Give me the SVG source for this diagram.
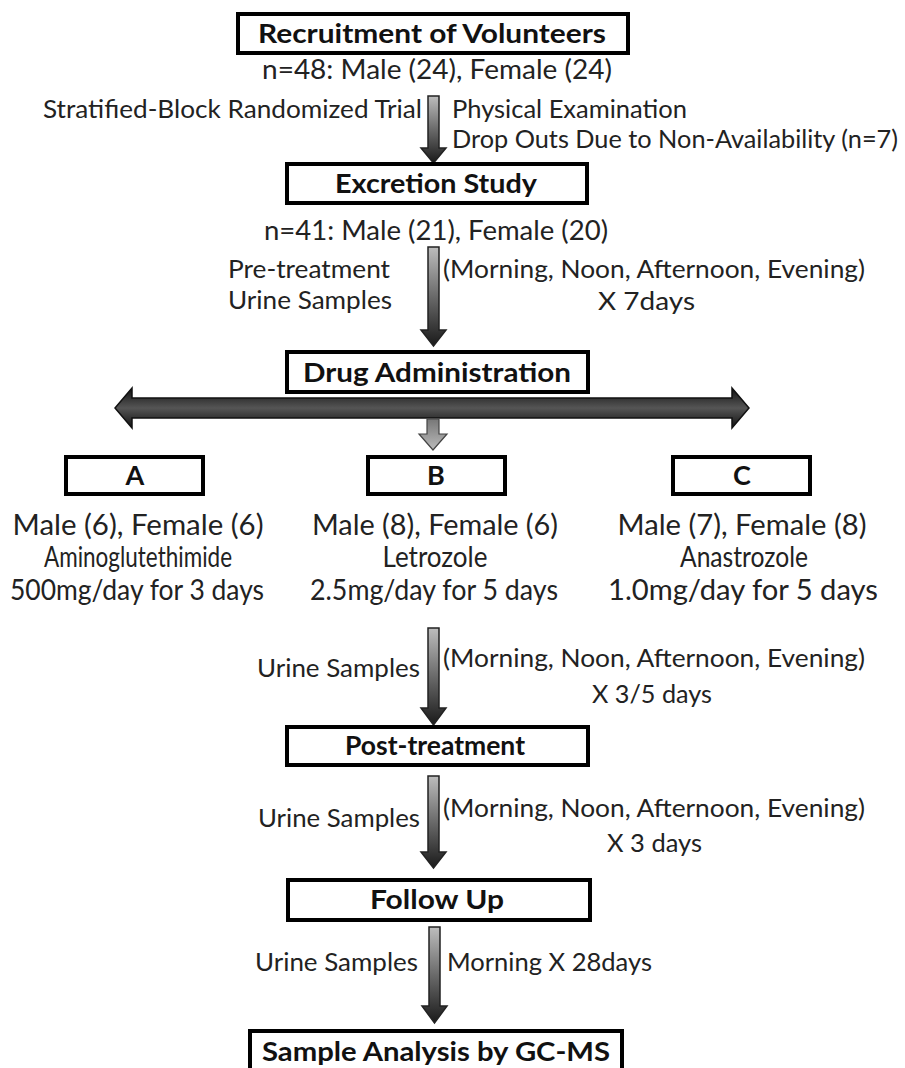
<svg xmlns="http://www.w3.org/2000/svg" width="905" height="1068" viewBox="0 0 905 1068">
<defs>
<linearGradient id="vg" x1="0" y1="0" x2="0" y2="1">
<stop offset="0" stop-color="#bdbdbd"/><stop offset="0.5" stop-color="#6a6a6a"/><stop offset="1" stop-color="#1a1a1a"/>
</linearGradient>
<linearGradient id="hg" x1="0" y1="0" x2="0" y2="1">
<stop offset="0" stop-color="#111"/><stop offset="0.5" stop-color="#555"/><stop offset="1" stop-color="#111"/>
</linearGradient>
<linearGradient id="gg" x1="0" y1="0" x2="0" y2="1">
<stop offset="0" stop-color="#777"/><stop offset="1" stop-color="#bbb"/>
</linearGradient>
</defs>
<style>
.box{fill:#fff;stroke:#000;stroke-width:4}
.t{font-family:Lato,"Liberation Sans",sans-serif;font-size:25px;fill:#222}
.tb{font-family:Lato,"Liberation Sans",sans-serif;font-size:27px;font-weight:bold;fill:#111;text-anchor:middle}
.tl{font-family:Lato,"Liberation Sans",sans-serif;font-size:27px;fill:#222;text-anchor:middle}
.tg{font-family:Lato,"Liberation Sans",sans-serif;font-size:28px;fill:#222;text-anchor:middle}
.ar{fill:url(#vg);stroke:#222;stroke-width:1.5}
</style>
<rect width="905" height="1068" fill="#fff"/>
<g id="connectors">
<path class="ar" d="M428,96 H439 V148 H446 L433.5,163 L421,148 H428 Z"/>
<path class="ar" d="M428,247 H439 V330 H446 L433.5,346 L421,330 H428 Z"/>
<path d="M132,398 H732 V388 L749,408 L732,428 V418 H132 V428 L115,408 L132,388 Z" fill="url(#hg)" stroke="#111" stroke-width="1.5"/>
<path d="M427,419 H439 V434 H447 L433,450 L419,434 H427 Z" fill="url(#gg)" stroke="#444" stroke-width="1.2"/>
<path class="ar" d="M428,628 H439 V708 H446 L433.5,725 L421,708 H428 Z"/>
<path class="ar" d="M428,776 H439 V852 H446 L433.5,868 L421,852 H428 Z"/>
<path class="ar" d="M429,927 H440 V1006 H447 L434.5,1023 L422,1006 H429 Z"/>
</g>
<g id="recruitment">
<rect class="box" x="238" y="14" width="390" height="39"/>
<text class="tb" x="432" y="43" textLength="348" lengthAdjust="spacingAndGlyphs">Recruitment of Volunteers</text>
<text class="tl" x="437" y="79" textLength="350" lengthAdjust="spacingAndGlyphs">n=48: Male (24), Female (24)</text>
</g>
<g id="labels1">
<text class="t" x="43" y="118" textLength="379" lengthAdjust="spacingAndGlyphs">Stratified-Block Randomized Trial</text>
<text class="t" x="452" y="118" textLength="235" lengthAdjust="spacingAndGlyphs">Physical Examination</text>
<text class="t" x="452" y="148" textLength="446" lengthAdjust="spacingAndGlyphs">Drop Outs Due to Non-Availability (n=7)</text>
</g>
<g id="excretion">
<rect class="box" x="287" y="164" width="300" height="39"/>
<text class="tb" x="436" y="193" textLength="202" lengthAdjust="spacingAndGlyphs">Excretion Study</text>
<text class="tl" x="436" y="240" textLength="344" lengthAdjust="spacingAndGlyphs">n=41: Male (21), Female (20)</text>
</g>
<g id="labels2">
<text class="t" x="228" y="278" textLength="162" lengthAdjust="spacingAndGlyphs">Pre-treatment</text>
<text class="t" x="228" y="309" textLength="164" lengthAdjust="spacingAndGlyphs">Urine Samples</text>
<text class="t" x="443" y="278" textLength="422" lengthAdjust="spacingAndGlyphs">(Morning, Noon, Afternoon, Evening)</text>
<text class="t" x="598" y="310" textLength="97" lengthAdjust="spacingAndGlyphs">X 7days</text>
</g>
<g id="drug">
<rect class="box" x="287" y="352" width="301" height="40"/>
<text class="tb" x="437" y="382" textLength="268" lengthAdjust="spacingAndGlyphs">Drug Administration</text>
</g>
<g id="groupA">
<rect class="box" x="66" y="457" width="137" height="37"/>
<text class="tb" x="135" y="485">A</text>
<text class="tg" x="138" y="535" textLength="251" lengthAdjust="spacingAndGlyphs">Male (6), Female (6)</text>
<text class="tg" x="138" y="567" textLength="188" lengthAdjust="spacingAndGlyphs">Aminoglutethimide</text>
<text class="tg" x="137" y="600" textLength="254" lengthAdjust="spacingAndGlyphs">500mg/day for 3 days</text>
</g>
<g id="groupB">
<rect class="box" x="368" y="457" width="137" height="37"/>
<text class="tb" x="436" y="485">B</text>
<text class="tg" x="435" y="535" textLength="246" lengthAdjust="spacingAndGlyphs">Male (8), Female (6)</text>
<text class="tg" x="435" y="567" textLength="105" lengthAdjust="spacingAndGlyphs">Letrozole</text>
<text class="tg" x="434" y="600" textLength="248" lengthAdjust="spacingAndGlyphs">2.5mg/day for 5 days</text>
</g>
<g id="groupC">
<rect class="box" x="673" y="457" width="137" height="37"/>
<text class="tb" x="742" y="485">C</text>
<text class="tg" x="742" y="535" textLength="249" lengthAdjust="spacingAndGlyphs">Male (7), Female (8)</text>
<text class="tg" x="744" y="567" textLength="128" lengthAdjust="spacingAndGlyphs">Anastrozole</text>
<text class="tg" x="743" y="600" textLength="270" lengthAdjust="spacingAndGlyphs">1.0mg/day for 5 days</text>
</g>
<g id="labels3">
<text class="t" x="257" y="677" textLength="163" lengthAdjust="spacingAndGlyphs">Urine Samples</text>
<text class="t" x="443" y="667" textLength="422" lengthAdjust="spacingAndGlyphs">(Morning, Noon, Afternoon, Evening)</text>
<text class="t" x="592" y="703" textLength="120" lengthAdjust="spacingAndGlyphs">X 3/5 days</text>
</g>
<g id="post">
<rect class="box" x="287" y="727" width="301" height="38"/>
<text class="tb" x="435" y="755" textLength="180" lengthAdjust="spacingAndGlyphs">Post-treatment</text>
</g>
<g id="labels4">
<text class="t" x="258" y="827" textLength="162" lengthAdjust="spacingAndGlyphs">Urine Samples</text>
<text class="t" x="443" y="817" textLength="422" lengthAdjust="spacingAndGlyphs">(Morning, Noon, Afternoon, Evening)</text>
<text class="t" x="607" y="852" textLength="95" lengthAdjust="spacingAndGlyphs">X 3 days</text>
</g>
<g id="followup">
<rect class="box" x="288" y="880" width="302" height="40"/>
<text class="tb" x="437" y="909" textLength="134" lengthAdjust="spacingAndGlyphs">Follow Up</text>
</g>
<g id="labels5">
<text class="t" x="255" y="971" textLength="163" lengthAdjust="spacingAndGlyphs">Urine Samples</text>
<text class="t" x="447" y="971" textLength="205" lengthAdjust="spacingAndGlyphs">Morning X 28days</text>
</g>
<g id="analysis">
<rect class="box" x="250" y="1031" width="372" height="45"/>
<text class="tb" x="436" y="1061" textLength="348" lengthAdjust="spacingAndGlyphs">Sample Analysis by GC-MS</text>
</g>
</svg>
